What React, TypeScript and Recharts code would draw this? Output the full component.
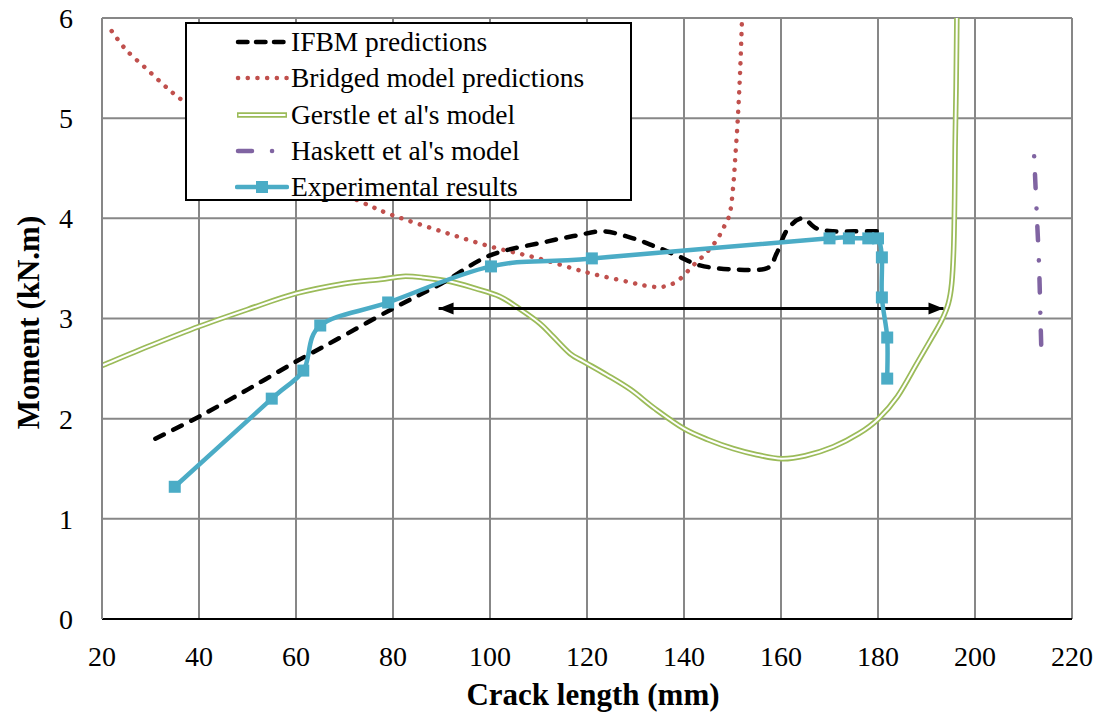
import React from 'react';
import { LineChart, Line, XAxis, YAxis, CartesianGrid, Legend } from 'recharts';

// ---------- data ----------
const xTicks = [20, 40, 60, 80, 100, 120, 140, 160, 180, 200, 220];
const yTicks = [0, 1, 2, 3, 4, 5, 6];

const ifbmX = [31, 40, 50, 60, 68, 80, 90, 100, 111, 118, 123.5, 129.5, 134, 138.5, 143.3, 150, 157, 159.1, 161.2, 164.3, 167.3, 170.8, 175, 180];
const ifbmY = [1.8, 2.02, 2.29, 2.57, 2.78, 3.1, 3.35, 3.63, 3.76, 3.83, 3.87, 3.8, 3.72, 3.63, 3.53, 3.49, 3.5, 3.65, 3.88, 4.0, 3.9, 3.87, 3.87, 3.87];

const bridgedX = [22, 25, 29, 33, 36.5, 45, 55, 65, 75, 80, 90, 100, 110, 120, 129, 133, 136, 138.8, 141.9, 144.5, 146.7, 148.3, 149.5, 150.2, 150.6, 151.1, 151.6, 152.0];
const bridgedY = [5.87, 5.68, 5.5, 5.32, 5.18, 4.88, 4.58, 4.35, 4.13, 4.03, 3.87, 3.72, 3.6, 3.46, 3.36, 3.32, 3.32, 3.38, 3.53, 3.65, 3.78, 3.92, 4.06, 4.35, 4.63, 5.0, 5.5, 6.05];

const gerstleX = [20, 30, 40, 50, 60, 70, 77.3, 82, 86, 91.8, 97, 102, 106, 110.3, 113, 116.5, 119.3, 124, 129, 134, 140, 145, 150.2, 155, 160.1, 165, 170.8, 176, 180.1, 184, 188, 191, 193.1, 194.5, 195.2, 195.6, 195.8, 195.9, 196.1, 196.3];
const gerstleY = [2.53, 2.73, 2.92, 3.09, 3.25, 3.35, 3.39, 3.42, 3.41, 3.37, 3.3, 3.22, 3.1, 2.95, 2.82, 2.65, 2.57, 2.44, 2.29, 2.1, 1.9, 1.79, 1.7, 1.64, 1.6, 1.63, 1.72, 1.85, 2.0, 2.22, 2.55, 2.8, 2.98, 3.15, 3.35, 3.7, 4.2, 4.7, 5.3, 6.2];

const haskettX = [212.2, 212.7, 213.2, 213.5, 213.7];
const haskettY = [4.62, 4.08, 3.54, 3.0, 2.65];

const expX = [35, 55, 61.5, 65, 79, 100.2, 121, 170, 174, 178, 180, 180.8, 180.8, 181.9, 181.9];
const expY = [1.32, 2.2, 2.48, 2.93, 3.16, 3.52, 3.6, 3.8, 3.8, 3.8, 3.8, 3.61, 3.21, 2.81, 2.4];

const arrowX = [89.4, 193.5];
const arrowY = [3.1, 3.1];

const seriesNames = ['IFBM predictions', 'Bridged model predictions', "Gerstle et al's model", "Haskett et al's model", 'Experimental results'];

// ---------- helpers ----------
const zip = (xs: number[], ys: number[]) => xs.map((x, i) => ({ x, y: ys[i] }));
const ifbmData = zip(ifbmX, ifbmY);
const bridgedData = zip(bridgedX, bridgedY);
const gerstleData = zip(gerstleX, gerstleY);
const haskettData = zip(haskettX, haskettY);
const expData = zip(expX, expY);
const arrowData = zip(arrowX, arrowY);

const COLORS = {
  ifbm: '#000000',
  bridged: '#C0504D',
  gerstle: '#9BBB59',
  haskett: '#8064A2',
  exp: '#4BACC6',
  grid: '#878787',
};

const FONT = "'Liberation Serif', 'Times New Roman', serif";

// Excel-like smoothing (Catmull-Rom through the points)
const smoothCurve: any = (context: any) => {
  let pts: number[][] = [];
  return {
    areaStart() {},
    areaEnd() {},
    lineStart() {
      pts = [];
    },
    point(x: number, y: number) {
      pts.push([+x, +y]);
    },
    lineEnd() {
      if (!pts.length) return;
      context.moveTo(pts[0][0], pts[0][1]);
      for (let i = 0; i < pts.length - 1; i++) {
        const p0 = pts[i - 1] || pts[i];
        const p1 = pts[i];
        const p2 = pts[i + 1];
        const p3 = pts[i + 2] || p2;
        const c1x = p1[0] + (p2[0] - p0[0]) / 6;
        const c1y = p1[1] + (p2[1] - p0[1]) / 6;
        const c2x = p2[0] - (p3[0] - p1[0]) / 6;
        const c2y = p2[1] - (p3[1] - p1[1]) / 6;
        context.bezierCurveTo(c1x, c1y, c2x, c2y, p2[0], p2[1]);
      }
    },
  };
};

const SquareDot = (props: any) => {
  const { cx, cy, index } = props;
  if (cx == null || cy == null) return null;
  return <rect key={`sq-${index}`} x={cx - 6} y={cy - 6} width={12} height={12} fill={COLORS.exp} />;
};

const ArrowHead = (props: any) => {
  const { cx, cy, index } = props;
  if (cx == null || cy == null) return null;
  const dir = index === 0 ? -1 : 1;
  const L = 15;
  const H = 6;
  const pts = `${cx},${cy} ${cx - dir * L},${cy - H} ${cx - dir * L},${cy + H}`;
  return <polygon key={`ah-${index}`} points={pts} fill="#000" />;
};

const SerifTick = (props: any) => {
  const { x, y, payload, textAnchor, verticalAnchor } = props;
  const dy = verticalAnchor === 'start' ? '0.71em' : '0.355em';
  return (
    <text x={x} y={y} dy={dy} textAnchor={textAnchor} style={{ fontFamily: FONT, fontSize: 28, fill: '#000' }}>
      {payload.value}
    </text>
  );
};

const YTitle = (props: any) => {
  const vb = props.viewBox || {};
  const cx = (vb.x || 0) + 28;
  const cy = (vb.y || 0) + (vb.height || 0) / 2 + 4;
  return (
    <text
      x={cx}
      y={cy}
      transform={`rotate(-90 ${cx} ${cy})`}
      textAnchor="middle"
      dominantBaseline="central"
      style={{ fontFamily: FONT, fontSize: 31, fontWeight: 'bold', fill: '#000' }}
    >
      Moment (kN.m)
    </text>
  );
};

const XTitle = (props: any) => {
  const vb = props.viewBox || {};
  const cx = (vb.x || 0) + (vb.width || 0) / 2 + 6;
  const cy = (vb.y || 0) + 75;
  return (
    <text
      x={cx}
      y={cy}
      textAnchor="middle"
      dominantBaseline="central"
      style={{ fontFamily: FONT, fontSize: 31, fontWeight: 'bold', fill: '#000' }}
    >
      Crack length (mm)
    </text>
  );
};

const Sample = ({ kind }: { kind: number }) => {
  const w = 54;
  const h = 20;
  const m = h / 2;
  if (kind === 0)
    return (
      <svg width={w} height={h}>
        <line x1={3} y1={m} x2={w - 2} y2={m} stroke="#000" strokeWidth={4.5} strokeDasharray="9.5 8.5" strokeLinecap="round" />
      </svg>
    );
  if (kind === 1)
    return (
      <svg width={w} height={h}>
        <line x1={3} y1={m} x2={w - 2} y2={m} stroke={COLORS.bridged} strokeWidth={4.5} strokeDasharray="0.1 9.6" strokeLinecap="round" />
      </svg>
    );
  if (kind === 2)
    return (
      <svg width={w} height={h}>
        <line x1={2} y1={m} x2={w - 2} y2={m} stroke={COLORS.gerstle} strokeWidth={5.5} />
        <line x1={3.5} y1={m} x2={w - 3.5} y2={m} stroke="#fff" strokeWidth={2} />
      </svg>
    );
  if (kind === 3)
    return (
      <svg width={w} height={h}>
        <line x1={3} y1={m} x2={w - 2} y2={m} stroke={COLORS.haskett} strokeWidth={4.5} strokeDasharray="14 20 0.1 40" strokeLinecap="round" />
      </svg>
    );
  return (
    <svg width={w} height={h}>
      <line x1={2} y1={m} x2={w - 2} y2={m} stroke={COLORS.exp} strokeWidth={4.5} strokeLinecap="round" />
      <rect x={w / 2 - 6} y={m - 6} width={12} height={12} fill={COLORS.exp} />
    </svg>
  );
};

const LegendBox = () => (
  <div
    style={{
      width: 443,
      height: 175,
      border: '2px solid #000',
      background: '#fff',
      fontFamily: FONT,
      fontSize: 27.5,
      color: '#000',
      boxSizing: 'content-box',
    }}
  >
    {seriesNames.map((name, i) => (
      <div key={name} style={{ display: 'flex', alignItems: 'center', height: 36.3, whiteSpace: 'nowrap' }}>
        <div style={{ width: 48 }} />
        <Sample kind={i} />
        <span style={{ marginLeft: 2, lineHeight: '36px' }}>{name}</span>
      </div>
    ))}
  </div>
);

export default function App() {
  return (
    <div style={{ position: 'absolute', left: 0, top: 0, width: 1103, height: 719, background: '#fff' }}>
      <LineChart width={1103} height={719} margin={{ top: 18, right: 31, left: 0, bottom: 0 }}>
        <CartesianGrid stroke={COLORS.grid} strokeWidth={2} />
        <XAxis
          type="number"
          dataKey="x"
          domain={[20, 220]}
          ticks={xTicks}
          allowDataOverflow
          height={100}
          tick={<SerifTick />}
          tickLine={false}
          tickSize={0}
          tickMargin={27}
          axisLine={{ stroke: '#000', strokeWidth: 2 }}
          label={<XTitle />}
        />
        <YAxis
          type="number"
          dataKey="y"
          domain={[0, 6]}
          ticks={yTicks}
          allowDataOverflow
          width={102}
          tick={<SerifTick />}
          tickLine={false}
          tickSize={0}
          tickMargin={29}
          axisLine={{ stroke: COLORS.grid, strokeWidth: 2 }}
          label={<YTitle />}
        />
        <Legend
          layout="vertical"
          align="center"
          verticalAlign="middle"
          wrapperStyle={{ position: 'absolute', left: 185, top: 22, width: 447, height: 179 }}
          content={() => <LegendBox />}
        />
        <Line
          data={gerstleData}
          dataKey="y"
          type={smoothCurve}
          stroke={COLORS.gerstle}
          strokeWidth={5.5}
          dot={false}
          activeDot={false}
          isAnimationActive={false}
          legendType="none"
        />
        <Line
          data={gerstleData}
          dataKey="y"
          type={smoothCurve}
          stroke="#ffffff"
          strokeWidth={2}
          dot={false}
          activeDot={false}
          isAnimationActive={false}
          legendType="none"
        />
        <Line
          data={bridgedData}
          dataKey="y"
          type={smoothCurve}
          stroke={COLORS.bridged}
          strokeWidth={4.5}
          strokeDasharray="0.1 9.6"
          strokeLinecap="round"
          dot={false}
          activeDot={false}
          isAnimationActive={false}
        />
        <Line
          data={haskettData}
          dataKey="y"
          type={smoothCurve}
          stroke={COLORS.haskett}
          strokeWidth={4.5}
          strokeDasharray="0.1 18 14 20"
          strokeLinecap="round"
          dot={false}
          activeDot={false}
          isAnimationActive={false}
        />
        <Line
          data={arrowData}
          dataKey="y"
          type="linear"
          stroke="#000"
          strokeWidth={3}
          dot={<ArrowHead />}
          activeDot={false}
          isAnimationActive={false}
          legendType="none"
        />
        <Line
          data={ifbmData}
          dataKey="y"
          type={smoothCurve}
          stroke={COLORS.ifbm}
          strokeWidth={4.5}
          strokeDasharray="9.5 10.5"
          strokeLinecap="round"
          dot={false}
          activeDot={false}
          isAnimationActive={false}
        />
        <Line
          data={expData}
          dataKey="y"
          type={smoothCurve}
          stroke={COLORS.exp}
          strokeWidth={4.5}
          dot={<SquareDot />}
          activeDot={false}
          isAnimationActive={false}
        />
      </LineChart>
    </div>
  );
}
